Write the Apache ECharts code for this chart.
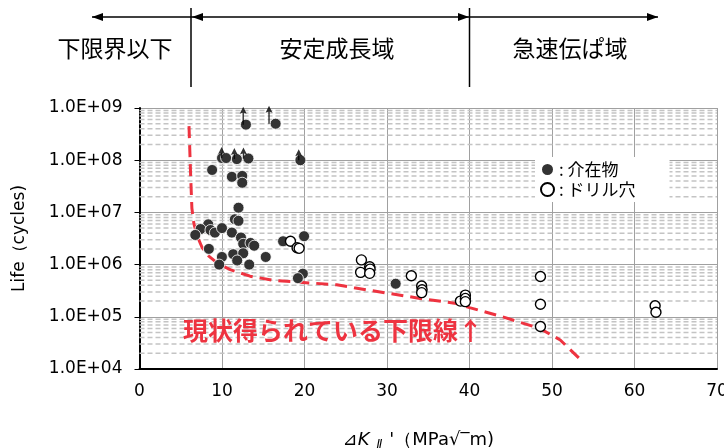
<!DOCTYPE html>
<html><head><meta charset="utf-8">
<script src="https://cdn.jsdelivr.net/npm/echarts@6/dist/echarts.min.js"></script>
<style>html,body{margin:0;padding:0;background:#fff}#c{width:724px;height:448px}</style>
</head><body><div id="c"></div>
<script>
// ---- data (ΔK_II' , life cycles) ----
const inclusionX = [12.9, 16.5, 10.0, 10.5, 11.8, 13.2, 19.5, 8.8, 11.2, 12.45, 12.45,
  12.0, 11.56, 12.0, 8.33, 7.4, 6.76, 8.6, 9.14, 10.0, 11.2, 12.3, 12.57, 13.46, 13.9,
  8.41, 11.36, 12.57, 9.99, 11.84, 13.3, 15.3, 9.66, 17.4, 19.95, 19.8, 19.2, 31.05];
const inclusionN = [4.8e8, 5.0e8, 1.1e8, 1.1e8, 1.05e8, 1.08e8, 1.0e8, 6.5e7, 4.8e7, 5.0e7, 3.7e7,
  1.23e7, 7.4e6, 6.9e6, 5.9e6, 4.8e6, 3.7e6, 4.6e6, 4.1e6, 5.0e6, 4.1e6, 3.3e6, 2.5e6, 2.6e6, 2.3e6,
  2.0e6, 1.58e6, 1.65e6, 1.4e6, 1.2e6, 1.0e6, 1.4e6, 1.0e6, 2.8e6, 3.5e6, 6.7e5, 5.5e5, 4.3e5];
const drillX = [18.3, 19.1, 19.35, 26.9, 26.8, 27.9, 27.95, 27.9, 32.95, 34.2, 34.25, 34.2,
  38.9, 39.5, 39.5, 39.5, 48.6, 48.6, 48.6, 62.5, 62.6];
const drillN = [2.8e6, 2.1e6, 2.05e6, 1.23e6, 7.1e5, 9.1e5, 8.2e5, 6.8e5, 6.1e5, 3.9e5, 3.3e5, 2.9e5,
  2.0e5, 2.6e5, 2.25e5, 1.95e5, 5.9e5, 1.74e5, 6.5e4, 1.63e5, 1.22e5];
// run-out arrows
const runoutTopX = [12.57, 15.7];
const runoutTopN = [4.8e8, 5.0e8];
const runoutMidX = [9.95, 11.5, 12.6, 19.3];
const runoutMidN = [1.1e8, 1.05e8, 1.08e8, 1.0e8];
// lower limit line (red dashed)
const limitX = [6.0, 6.2, 6.35, 6.6, 7.0, 7.6, 8.4, 9.5, 11.0, 13.4, 16.2, 19.4, 23.9, 26.0, 30.0, 34.0, 38.4, 40.0, 44.0, 48.5, 51.0, 53.3];
const limitN = [4.5e8, 5e7, 1.2e7, 6e6, 3.5e6, 2.1e6, 1.45e6, 1.05e6, 8e5, 6e5, 5e5, 4.6e5, 4.1e5, 3.6e5, 2.85e5, 2.25e5, 1.8e5, 1.5e5, 1.0e5, 6e4, 3.6e4, 1.6e4];
const xTickInterval = 10;
const yDecades = [4, 5, 6, 7, 8, 9];
const regionLabels = ['下限界以下', '安定成長域', '急速伝ぱ域'];
const legendNames = ['介在物', 'ドリル穴'];
const limitLabel = '現状得られている下限線↑';

const zip = (a, b) => a.map((v, i) => [v, b[i]]);
const minorValues = [];
for (let d = yDecades[0]; d < yDecades[yDecades.length - 1]; d++) {
  for (let k = 2; k <= 9; k++) minorValues.push([k * Math.pow(10, d)]);
}

const chart = echarts.init(document.getElementById('c'));
const arrowTop = 'path://M3.5,0 L7,7 L4.2,6 L4.2,18 L2.8,18 L2.8,6 L0,7 Z';
const arrowMid = 'path://M3.5,0 L7,7 L4.2,6 L4.2,11 L2.8,11 L2.8,6 L0,7 Z';
const cjk = '"Noto Sans CJK JP", sans-serif';
const lat = '"DejaVu Sans", sans-serif';

function head(x, y, dir) { // dir -1 left, +1 right
  const L = 11, H = 4;
  return { type: 'polygon', shape: { points: [[x, y], [x - dir * L, y - H], [x - dir * L, y + H]] }, style: { fill: '#000' } };
}

chart.setOption({
  animation: false,
  grid: { left: 139.5, right: 7, top: 108, bottom: 79, outerBoundsMode: 'none', containLabel: false },
  xAxis: {
    type: 'value', min: 0, max: 70, interval: xTickInterval,
    axisLine: { lineStyle: { color: '#000', width: 2 } },
    axisTick: { show: false },
    axisLabel: { color: '#000', fontFamily: lat, fontSize: 17, margin: 14 },
    splitLine: { lineStyle: { color: '#a0a0a0', width: 1 } },
    name: '{i|⊿K}{s|Ⅱ}{n|\'（MPa√‾m)}',
    nameLocation: 'middle', nameGap: 60,
    nameTextStyle: {
      padding: [0, 20, 0, 0],
      rich: {
        i: { fontFamily: lat, fontSize: 18, fontStyle: 'italic', color: '#000' },
        s: { fontFamily: lat, fontSize: 12, fontStyle: 'italic', color: '#000', padding: [10, 7, 0, 7] },
        n: { fontFamily: lat, fontSize: 18, color: '#000' }
      }
    }
  },
  yAxis: {
    type: 'log', logBase: 10, min: 1e4, max: 1e9,
    axisLine: { show: true, lineStyle: { color: '#000', width: 2 } },
    axisTick: { show: true, inside: false, length: 5, lineStyle: { color: '#000', width: 1 } },
    axisLabel: {
      color: '#000', fontFamily: lat, fontSize: 17, margin: 17,
      formatter: v => '1.0E+' + String(Math.round(Math.log10(v))).padStart(2, '0')
    },
    splitLine: { lineStyle: { color: '#a0a0a0', width: 1 } },
    name: 'Life（cycles)', nameLocation: 'middle', nameGap: 111,
    nameTextStyle: { fontFamily: lat, fontSize: 17, color: '#000' }
  },
  legend: {
    orient: 'vertical', left: 535, top: 157,
    padding: [4, 34, 4, 5], backgroundColor: '#fff',
    itemWidth: 13, itemHeight: 13, itemGap: 3,
    data: [{ name: legendNames[0], icon: 'circle' }, { name: legendNames[1], icon: 'circle' }],
    formatter: n => ': ' + n,
    textStyle: { fontFamily: cjk, fontSize: 17, color: '#000' },
    selectedMode: false
  },
  series: [
    {
      type: 'custom', name: 'grid-minor', data: minorValues, silent: true, z: 1,
      encode: { y: 0 },
      renderItem: (params, api) => {
        const v = api.value(0);
        const p1 = api.coord([0, v]);
        const p2 = api.coord([70, v]);
        return {
          type: 'line', shape: { x1: p1[0], y1: p1[1], x2: p2[0], y2: p2[1] },
          style: { stroke: '#c4c4c4', lineWidth: 1.5, lineDash: [5, 3] }
        };
      }
    },
    {
      type: 'line', name: 'limit', data: zip(limitX, limitN), symbol: 'none', z: 3,
      lineStyle: { color: '#ee3340', width: 3, type: [12, 7] }, silent: true
    },
    {
      type: 'scatter', name: legendNames[0], data: zip(inclusionX, inclusionN), symbol: 'circle', symbolSize: 11, z: 4,
      itemStyle: { color: '#333333', borderColor: '#ffffff', borderWidth: 0.8, opacity: 1 }
    },
    {
      type: 'scatter', name: legendNames[1], data: zip(drillX, drillN), symbol: 'circle', symbolSize: 10, z: 5,
      itemStyle: { color: '#ffffff', borderColor: '#000000', borderWidth: 1.4, opacity: 1 }
    },
    {
      type: 'scatter', name: 'arrowTop', data: zip(runoutTopX, runoutTopN), symbol: arrowTop,
      symbolSize: [7, 18], symbolOffset: [0, -9], z: 6, itemStyle: { color: '#000' }, silent: true
    },
    {
      type: 'scatter', name: 'arrowMid', data: zip(runoutMidX, runoutMidN), symbol: arrowMid,
      symbolSize: [7, 11], symbolOffset: [0, -5.5], z: 6, itemStyle: { color: '#000' }, silent: true
    }
  ],
  graphic: [
    { type: 'line', shape: { x1: 92, y1: 17, x2: 658, y2: 17 }, style: { stroke: '#000', lineWidth: 1.5 } },
    head(92, 17, -1), head(192, 17, -1), head(469, 17, 1), head(658, 17, 1),
    { type: 'line', shape: { x1: 191, y1: 8, x2: 191, y2: 87 }, style: { stroke: '#000', lineWidth: 1.5 } },
    { type: 'line', shape: { x1: 469.5, y1: 8, x2: 469.5, y2: 87 }, style: { stroke: '#000', lineWidth: 1.5 } },
    { type: 'text', x: 115, y: 48, style: { text: regionLabels[0], font: '23px ' + cjk, fill: '#000', align: 'center', verticalAlign: 'middle' } },
    { type: 'text', x: 337, y: 48, style: { text: regionLabels[1], font: '23px ' + cjk, fill: '#000', align: 'center', verticalAlign: 'middle' } },
    { type: 'text', x: 570, y: 48, style: { text: regionLabels[2], font: '23px ' + cjk, fill: '#000', align: 'center', verticalAlign: 'middle' } },
    { type: 'text', x: 183, y: 330, z: 10, style: { text: limitLabel, font: 'bold 25px ' + cjk, fill: '#ee3340', align: 'left', verticalAlign: 'middle' } }
  ]
});
</script></body></html>
